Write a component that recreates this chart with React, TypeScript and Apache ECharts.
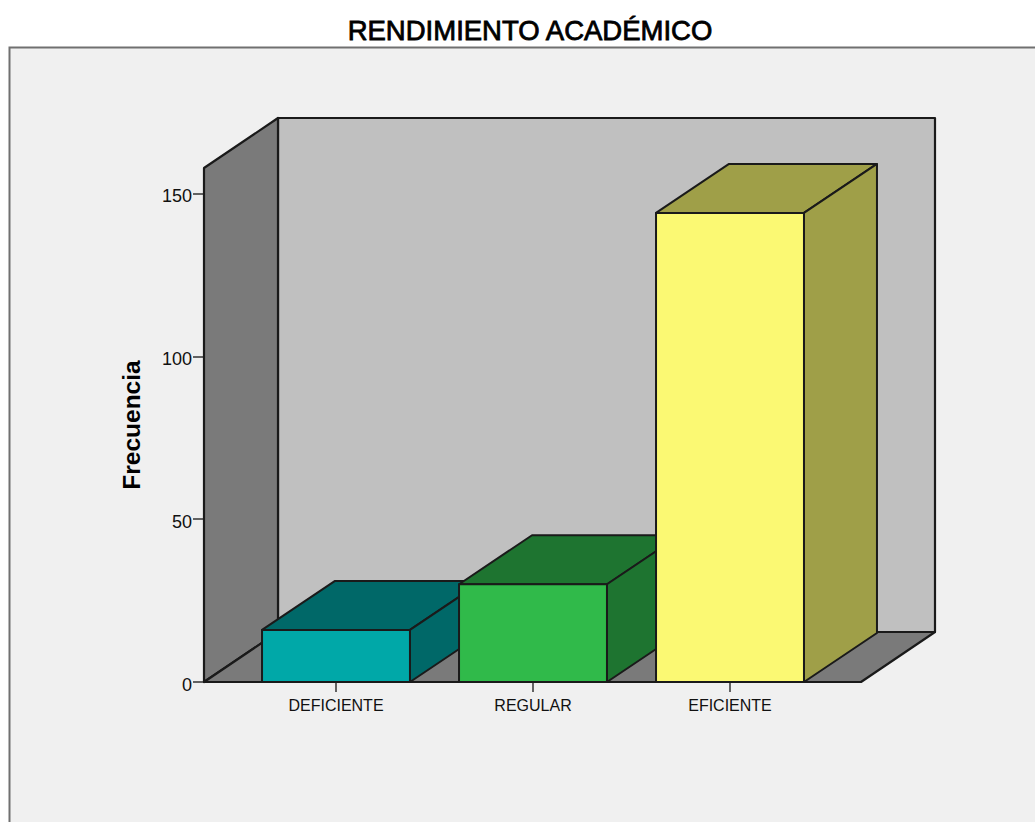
import React, { useEffect, useRef } from "react";
import * as echarts from "echarts";

const categories = ["DEFICIENTE", "REGULAR", "EFICIENTE"];
const frequencies = [16, 30, 144];
const yTicks = [0, 50, 100, 150];
const yMax = 157.8;

const fronts = ["#00A8A8", "#30BA4A", "#FBF973"];
const shades = ["#006868", "#1E7430", "#9F9F48"];
const WALL = "#7A7A7A";
const BACK = "#C0C0C0";
const INK = "#1A1A1A";

const DEPTH_X = 74;
const DEPTH_Y = 50;
const BAR_DX = 73;
const BAR_DY = 49;
const AXIS_PAD = 33.5;
const RIGHT_PAD = 32.5;

const poly = (points: number[][], fill: string, lineWidth = 2.2) => ({
  type: "polygon",
  shape: { points },
  style: { fill, stroke: INK, lineWidth, lineJoin: "round" },
});

const renderWalls = (params: any) => {
  const c = params.coordSys;
  const l = c.x - AXIS_PAD;
  const r = c.x + c.width + RIGHT_PAD;
  const t = c.y;
  const b = c.y + c.height;
  return {
    type: "group",
    children: [
      poly([[l + DEPTH_X, t - DEPTH_Y], [r + DEPTH_X, t - DEPTH_Y], [r + DEPTH_X, b - DEPTH_Y], [l + DEPTH_X, b - DEPTH_Y]], BACK),
      poly([[l, t], [l + DEPTH_X, t - DEPTH_Y], [l + DEPTH_X, b - DEPTH_Y], [l, b]], WALL),
      poly([[l, b], [l + DEPTH_X, b - DEPTH_Y], [r + DEPTH_X, b - DEPTH_Y], [r, b]], WALL),
    ],
  };
};

const renderBar = (params: any, api: any) => {
  const i = api.value(0);
  const top = api.coord([i, api.value(1)]);
  const base = api.coord([i, 0]);
  const half = (api.size([1, 0])[0] * 0.751) / 2;
  const l = top[0] - half;
  const r = top[0] + half;
  const t = top[1];
  const b = base[1];
  return {
    type: "group",
    children: [
      poly([[l, t], [l + BAR_DX, t - BAR_DY], [r + BAR_DX, t - BAR_DY], [r, t]], shades[i], 2),
      poly([[r, t], [r + BAR_DX, t - BAR_DY], [r + BAR_DX, b - BAR_DY], [r, b]], shades[i], 2),
      poly([[l, t], [r, t], [r, b], [l, b]], fronts[i], 2),
    ],
  };
};

export default function App() {
  const ref = useRef<HTMLDivElement>(null);
  useEffect(() => {
    const chart = echarts.init(ref.current!, null, { renderer: "svg" });
    chart.setOption({
      animation: false,
      backgroundColor: "#FFFFFF",
      textStyle: { fontFamily: "Liberation Sans" },
      title: {
        text: "RENDIMIENTO ACADÉMICO",
        left: 525,
        top: 11,
        textAlign: "center",
        textStyle: { fontFamily: "Liberation Sans", fontSize: 27.5, fontWeight: "normal", color: "#000000", textBorderColor: "#000000", textBorderWidth: 0.8 },
      },
      graphic: [
        {
          type: "rect",
          z: -10,
          shape: { x: 9.5, y: 47.5, width: 1040, height: 800 },
          style: { fill: "#F0F0F0", stroke: "#707070", lineWidth: 2 },
        },
      ],
      grid: { left: 237.5, right: 206.5, top: 168, bottom: 140 },
      xAxis: {
        type: "category",
        data: categories,
        axisLine: { show: false },
        axisTick: { show: true, alignWithLabel: true, length: 10, lineStyle: { color: "#333333", width: 1.5 } },
        axisLabel: { color: "#111111", fontSize: 16, margin: 15 },
      },
      yAxis: {
        type: "value",
        min: 0,
        max: yMax,
        offset: AXIS_PAD,
        name: "Frecuencia",
        nameLocation: "middle",
        nameGap: 60,
        nameRotate: 90,
        nameTextStyle: { fontFamily: "Liberation Sans", fontSize: 24.5, fontWeight: "bold", color: "#000000" },
        axisLine: { show: false },
        axisTick: { show: true, customValues: yTicks, length: 11, lineStyle: { color: "#333333", width: 1.5 } },
        axisLabel: {
          customValues: yTicks,
          margin: 12,
          formatter: "{t|{value}}",
          rich: { t: { color: "#111111", fontSize: 18, padding: [6, 0, 0, 0] } },
        },
        splitLine: { show: false },
      },
      series: [
        { type: "custom", renderItem: renderWalls, data: [[0, 0]], z: 1, silent: true },
        {
          type: "custom",
          renderItem: renderBar,
          data: frequencies.map((v, i) => [i, v]),
          encode: { x: 0, y: 1 },
          z: 3,
        },
      ],
    });
    return () => chart.dispose();
  }, []);
  return <div ref={ref} style={{ position: "absolute", left: 0, top: 0, width: 1035, height: 822 }} />;
}
